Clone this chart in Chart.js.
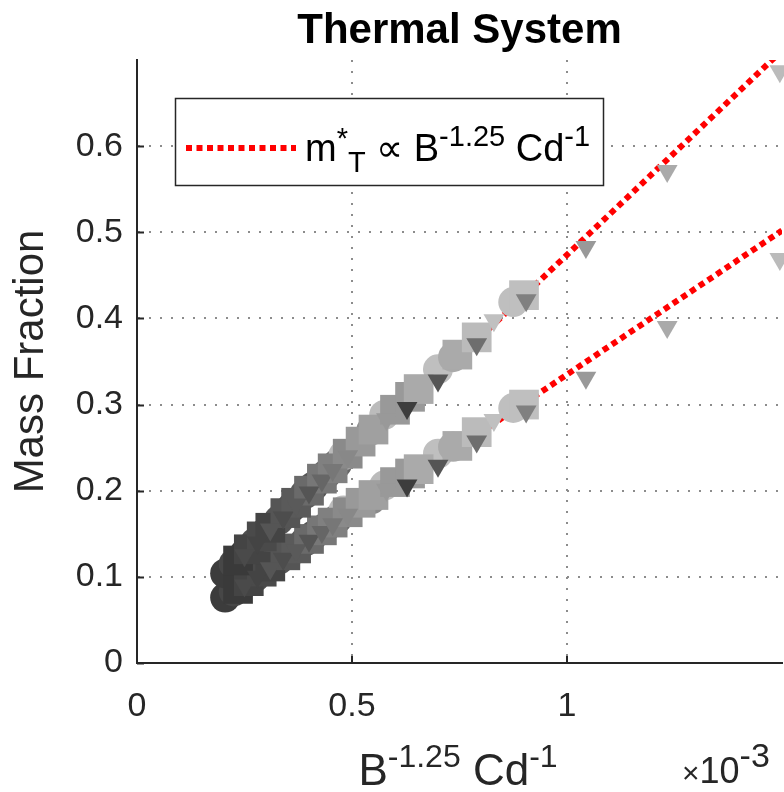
<!DOCTYPE html>
<html>
<head>
<meta charset="utf-8">
<script src="https://cdn.jsdelivr.net/npm/chart.js@4.4.1/dist/chart.umd.min.js"></script>
<style>
  html, body { margin: 0; padding: 0; background: #fff; }
</style>
</head>
<body>
<canvas id="chart1" width="784" height="792"></canvas>
<script>
// x values are in units of 1e-3 (the axis shows x10^-3)
const circleX     = [0.205, 0.225, 0.25, 0.275, 0.30, 0.33, 0.36, 0.39, 0.41, 0.44, 0.465, 0.48, 0.545, 0.575, 0.70, 0.735, 0.875];
const circleUpper = [0.104, 0.115, 0.127, 0.140, 0.152, 0.166, 0.181, 0.196, 0.205, 0.219, 0.231, 0.241, 0.270, 0.288, 0.341, 0.355, 0.419];
const circleLower = [0.076, 0.083, 0.092, 0.100, 0.109, 0.120, 0.130, 0.141, 0.148, 0.158, 0.167, 0.177, 0.190, 0.206, 0.243, 0.251, 0.296];
const circleShade = ['#3c3c3c','#474747','#3c3c3c','#4f4f4f','#404040','#555555','#4a4a4a','#5a5a5a','#555555','#666666','#666666','#bbbbbb','#8a8a8a','#bbbbbb','#bfbfbf','#aaaaaa','#bfbfbf'];

const squareX     = [0.235, 0.26, 0.29, 0.31, 0.345, 0.37, 0.40, 0.43, 0.455, 0.49, 0.52, 0.55, 0.60, 0.635, 0.655, 0.745, 0.79, 0.90];
const squareUpper = [0.119, 0.132, 0.147, 0.157, 0.174, 0.186, 0.200, 0.214, 0.226, 0.243, 0.257, 0.271, 0.294, 0.309, 0.318, 0.358, 0.378, 0.427];
const squareLower = [0.086, 0.095, 0.106, 0.112, 0.125, 0.133, 0.144, 0.154, 0.163, 0.175, 0.186, 0.195, 0.210, 0.220, 0.225, 0.252, 0.268, 0.300];
const squareShade = ['#3a3a3a','#444444','#4a4a4a','#444444','#555555','#5a5a5a','#6a6a6a','#777777','#808080','#8a8a8a','#999999','#a0a0a0','#999999','#999999','#aaaaaa','#aaaaaa','#bbbbbb','#bfbfbf'];

const triX     = [0.25, 0.28, 0.31, 0.34, 0.37, 0.40, 0.43, 0.455, 0.49, 0.58, 0.628, 0.70, 0.79, 0.83, 0.905, 1.044, 1.233, 1.495];
const triUpper = [0.125, 0.140, 0.155, 0.169, 0.184, 0.198, 0.212, 0.224, 0.240, 0.283, 0.296, 0.328, 0.370, 0.398, 0.421, 0.483, 0.571, 0.687];
const triLower = [0.090, 0.100, 0.110, 0.121, 0.131, 0.142, 0.152, 0.161, 0.172, 0.201, 0.206, 0.229, 0.257, 0.282, 0.292, 0.331, 0.390, 0.469];
const triShade = ['#4a4a4a','#444444','#555555','#4d4d4d','#5a5a5a','#555555','#666666','#777777','#888888','#999999','#3d3d3d','#555555','#6e6e6e','#c0c0c0','#808080','#999999','#aaaaaa','#bbbbbb'];

// fitted lines m*_T ~ B^-1.25 Cd^-1
const fitX     = [0.8, 1.5];
const fitUpper = [0.379, 0.711];
const fitLower = [0.268, 0.502];

const xTicks = [0, 0.5, 1];
const yTicks = [0, 0.1, 0.2, 0.3, 0.4, 0.5, 0.6];

const FONT = '"Liberation Sans", Arial, Helvetica, sans-serif';
const AXIS_COLOR = '#262626';
Chart.defaults.font.family = FONT;
Chart.defaults.color = AXIS_COLOR;

function pts(xs, ys) {
  return xs.map((x, i) => ({ x: x, y: ys[i] }));
}

function markers(xs, ys, shades, style, radius, rot, order) {
  return {
    type: 'scatter',
    data: pts(xs, ys),
    pointStyle: style,
    pointRadius: radius,
    pointRotation: rot,
    pointBackgroundColor: shades,
    pointBorderColor: shades,
    pointBorderWidth: 0,
    clip: false,
    order: order
  };
}

function fitLine(ys) {
  return {
    type: 'line',
    data: pts(fitX, ys),
    borderColor: '#ff0000',
    borderWidth: 6,
    borderDash: [6, 4.5],
    pointRadius: 0,
    fill: false,
    clip: 0,
    order: 10
  };
}

// draw a run of text pieces, some raised or lowered
function drawRuns(ctx, x, y, runs, center) {
  let w = 0;
  runs.forEach(r => { ctx.font = r[1] + 'px ' + FONT; w += ctx.measureText(r[0]).width; });
  let cx = center ? x - w / 2 : x;
  ctx.textAlign = 'left';
  ctx.textBaseline = 'alphabetic';
  runs.forEach(r => {
    ctx.font = r[1] + 'px ' + FONT;
    ctx.fillText(r[0], cx, y + r[2]);
    cx += ctx.measureText(r[0]).width;
  });
}

const extras = {
  id: 'extras',
  afterDraw(chart) {
    const ctx = chart.ctx;
    const xs = chart.scales.x, ys = chart.scales.y;
    const area = chart.chartArea;
    ctx.save();
    // title, centred over the plot area
    ctx.fillStyle = '#000000';
    ctx.font = 'bold 42px ' + FONT;
    ctx.textAlign = 'center';
    ctx.textBaseline = 'alphabetic';
    ctx.fillText('Thermal System', (area.left + area.right) / 2, 43);

    // inward tick marks
    ctx.strokeStyle = AXIS_COLOR;
    ctx.lineWidth = 2;
    ctx.beginPath();
    yTicks.forEach(v => {
      const py = Math.round(ys.getPixelForValue(v)) + 0.5;
      ctx.moveTo(area.left, py); ctx.lineTo(area.left + 7, py);
    });
    xTicks.forEach(v => {
      const px = Math.round(xs.getPixelForValue(v));
      ctx.moveTo(px, area.bottom); ctx.lineTo(px, area.bottom - 7);
    });
    ctx.stroke();

    // x axis label
    ctx.fillStyle = AXIS_COLOR;
    drawRuns(ctx, 458, 785, [['B', 44, 0], ['-1.25', 32, -18], [' Cd', 44, 0], ['-1', 32, -18]], true);
    // exponent multiplier
    drawRuns(ctx, 682, 783, [['\u00d7', 30, 0], ['10', 36, 0], ['-3', 34, -16]], false);

    // legend
    ctx.fillStyle = '#ffffff';
    ctx.fillRect(175, 98, 428, 87);
    ctx.strokeStyle = AXIS_COLOR;
    ctx.lineWidth = 1.5;
    ctx.strokeRect(175.5, 98.5, 428, 87);
    ctx.strokeStyle = '#ff0000';
    ctx.lineWidth = 6;
    ctx.setLineDash([6, 4.5]);
    ctx.beginPath();
    ctx.moveTo(186, 148); ctx.lineTo(296, 148);
    ctx.stroke();
    ctx.setLineDash([]);
    ctx.fillStyle = '#000000';
    drawRuns(ctx, 305, 161, [['m', 38, 0], ['*', 29, -13], ['T', 29, 11], [' \u221d B', 38, 0], ['-1.25', 29, -15], [' Cd', 38, 0], ['-1', 29, -15]], false);
    ctx.restore();
  }
};

const ctx1 = document.getElementById('chart1').getContext('2d');
new Chart(ctx1, {
  data: {
    datasets: [
      fitLine(fitUpper),
      fitLine(fitLower),
      markers(circleX, circleUpper, circleShade, 'circle', 15, 0, 3),
      markers(circleX, circleLower, circleShade, 'circle', 15, 0, 3),
      markers(squareX, squareUpper, squareShade, 'rect', 21, 0, 2),
      markers(squareX, squareLower, squareShade, 'rect', 21, 0, 2),
      markers(triX, triUpper, triShade, 'triangle', 12, 180, 1),
      markers(triX, triLower, triShade, 'triangle', 12, 180, 1)
    ]
  },
  options: {
    responsive: false,
    animation: false,
    devicePixelRatio: 1,
    layout: { autoPadding: false, padding: { left: 0, right: 2, top: 60, bottom: 0 } },
    plugins: {
      legend: { display: false },
      tooltip: { enabled: false },
      title: { display: false }
    },
    scales: {
      x: {
        type: 'linear',
        min: 0,
        max: 1.5,
        afterBuildTicks: s => { s.ticks = xTicks.map(v => ({ value: v })); },
        afterFit: s => { s.height = 129; s.paddingLeft = 0; s.paddingRight = 0; },
        ticks: { font: { size: 34 }, padding: 23, color: AXIS_COLOR, callback: v => String(v) },
        grid: { color: '#8c8c8c', lineWidth: 2, drawTicks: false },
        border: { display: true, color: AXIS_COLOR, width: 2, dash: [2, 9] }
      },
      y: {
        type: 'linear',
        min: 0,
        max: 0.7,
        afterBuildTicks: s => { s.ticks = yTicks.map(v => ({ value: v })); },
        afterFit: s => { s.width = 137; s.paddingTop = 0; s.paddingBottom = 0; },
        ticks: { font: { size: 34 }, padding: 14, color: AXIS_COLOR, callback: v => String(v) },
        grid: { color: '#8c8c8c', lineWidth: 2, drawTicks: false },
        border: { display: true, color: AXIS_COLOR, width: 2, dash: [2, 9] },
        title: { display: true, text: 'Mass Fraction', font: { size: 42 }, padding: { top: 6 }, color: AXIS_COLOR }
      }
    }
  },
  plugins: [extras]
});
</script>
</body>
</html>
